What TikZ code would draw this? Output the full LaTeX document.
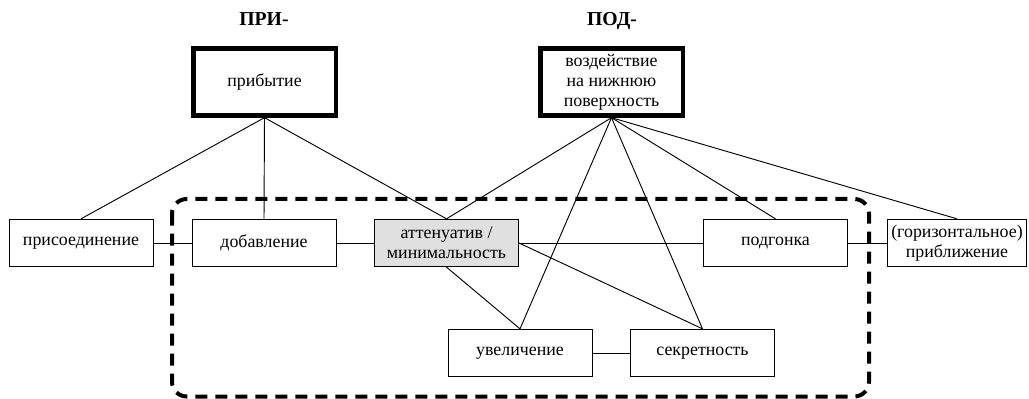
\documentclass[tikz,border=0pt]{standalone}
\usepackage{fontspec}
\setmainfont{Liberation Serif}
\definecolor{attgray}{HTML}{E0E0E0}

\begin{document}
\begin{tikzpicture}[x=0.75pt,y=-0.75pt,
  txt/.style={font=\fontsize{13.4}{15}\selectfont},
  prefixlabel/.style={font=\fontsize{14.8}{17}\selectfont\bfseries,anchor=base},
  box/.style={txt,draw,line width=0.75pt,align=center,inner sep=1pt,
    minimum width=108pt,minimum height=35.5pt},
  topbox/.style={txt,draw,line width=3.5pt,align=center,inner sep=1pt,
    minimum width=107pt,minimum height=50pt},
  link/.style={line width=0.7pt},
  group/.style={line width=3pt,dash pattern=on 9pt off 6pt,rounded corners=11pt}]
\useasboundingbox (0,0) rectangle (1029,399);

%dashed group
\draw[group] (172,199) rectangle (869,396.5);

\node[prefixlabel] (pri) at (264,26) {ПРИ-};
\node[prefixlabel] (pod) at (612,26) {ПОД-};

\node[topbox] (arrival) at (264.5,82) {прибытие};
\node[topbox] (impact) at (611.5,82) {воздействие\\на нижнюю\\поверхность};

\node[box] (join) at (81,243) {присоединение};
\node[box] (add) at (264,243) {добавление};
\node[box,fill=attgray] (atten) at (446.5,243) {аттенуатив /\\минимальность};
\node[box] (fit) at (775.5,243) {подгонка};
\node[box,minimum width=104pt] (approach) at (957,243) {(горизонтальное)\\приближение};
\node[box] (increase) at (520,353) {увеличение};
\node[box] (secret) at (702.5,353) {секретность};

\draw[link] (arrival.south) -- (join.north);
\draw[link] (arrival.south) -- (add.north);
\draw[link] (arrival.south) -- (atten.north);

\foreach \t in {atten,increase,secret,fit,approach}
  \draw[link] (impact.south) -- (\t.north);

\draw[link] (join) -- (add);
\draw[link] (add) -- (atten);
\draw[link] (atten) -- (fit);
\draw[link] (fit) -- (approach);
\draw[link] (increase) -- (secret);
\draw[link] (atten.south) -- (increase.north);
\draw[link] (atten.east) -- (secret.north);
\end{tikzpicture}
\end{document}
